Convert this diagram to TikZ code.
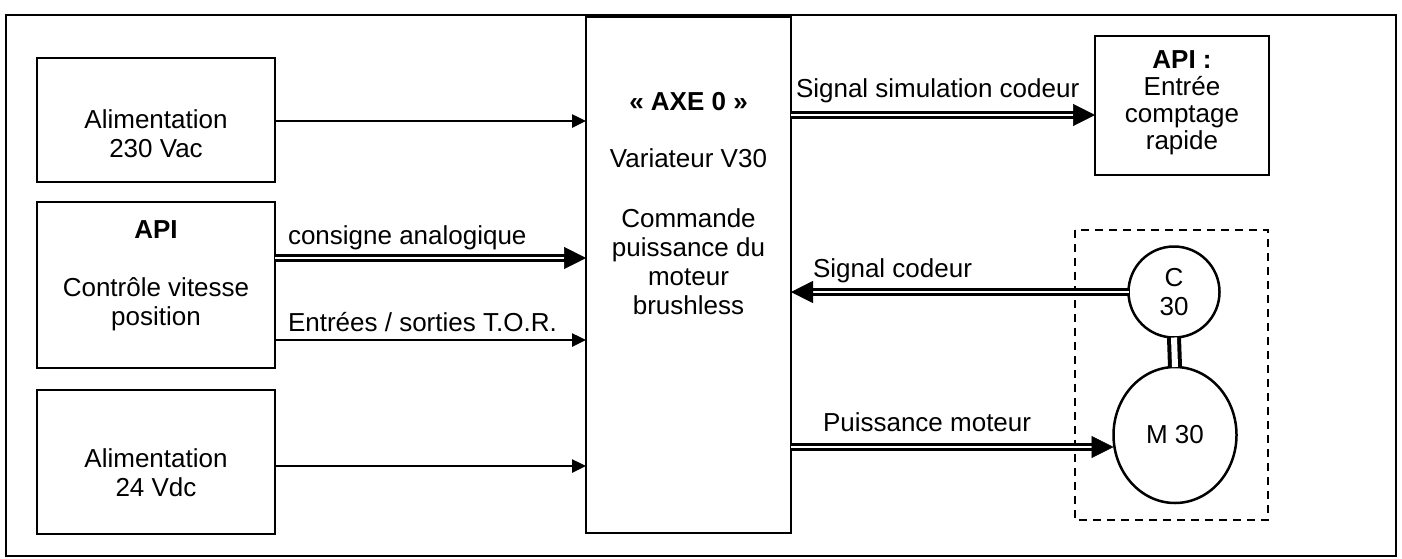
\documentclass[tikz,border=0pt]{standalone}
\usepackage{fontspec}
\setmainfont{Liberation Sans}
\usetikzlibrary{arrows.meta,shapes.geometric,calc}
\begin{document}
\begin{tikzpicture}[x=1pt,y=-1pt,
  every node/.style={font=\fontsize{26}{29}\selectfont, inner sep=0pt, outer sep=0pt},
  box/.style={draw, line width=2.5pt, align=center},
  lbl/.style={align=center},
  elbl/.style={anchor=base west},
  sline/.style={line width=2.5pt, -{Triangle[length=14pt,width=13pt]}},
  dline/.style={line width=2.6pt, double, double distance=2pt},
  dtip/.style={line width=0.5pt, -{Triangle[length=22pt,width=22pt]}},
]
\useasboundingbox (0,0) rectangle (1402,558);
% outer frame
\draw[line width=2.5pt] (6,15) rectangle (1396,556);

% left boxes
\node[box, minimum width=238pt, minimum height=124pt] (alim230) at (156,120) {};
\node[lbl] (alim230t) at (156,134) {Alimentation\\230 Vac};
\node[box, minimum width=238pt, minimum height=166pt] (api) at (156,285) {};
\node[lbl] (apit) at (156,230) {\bfseries API};
\node[lbl] (apic) at (156,304.5) {Contrôle vitesse\\position};
\node[box, minimum width=238pt, minimum height=144pt] (alim24) at (156,462) {};
\node[lbl] (alim24t) at (156,473) {Alimentation\\24 Vdc};

% central box
\node[box, minimum width=205pt, minimum height=516pt] (axe) at (688.5,275) {};
\node[lbl] (axet) at (688.5,102) {\bfseries « AXE 0 »};
\node[lbl] (axev) at (688.5,158) {Variateur V30};
\node[lbl] (axec) at (688.5,262) {Commande\\puissance du\\moteur\\brushless};

% right API box
\node[box, minimum width=174pt, minimum height=139pt] (apir) at (1182,105.5) {};
\node[lbl] (apirt) at (1182,102.5) {\bfseries API :\\[-2pt]\mdseries Entrée\\[-2pt]comptage\\[-2pt]rapide};

% motor group
\draw[line width=2.5pt, dash pattern=on 8pt off 6pt] (1075,230) rectangle (1268,520);
\node[draw, circle, line width=2.5pt, minimum size=91pt, align=center] (cod) at (1174,292) {C\\30};
\node[draw, ellipse, line width=2.5pt, minimum width=123pt, minimum height=136pt] (mot) at (1175,435) {M 30};
\draw[line width=4pt, double, double distance=6pt] (cod.south) -- (mot.north);

% row coordinates
\coordinate (r230) at (0,121);
\coordinate (rcons) at (0,258);
\coordinate (rtor) at (0,340);
\coordinate (r24) at (0,466);
\coordinate (rsim) at (0,115);
\coordinate (rpui) at (0,447);

% labels
\node[elbl] (lcons) at (288,244) {consigne analogique};
\node[elbl] (ltor) at (288,331) {Entrées / sorties T.O.R.};
\node[elbl] (lsim) at (796,97) {Signal simulation codeur};
\node[elbl] (lcod) at (813,277) {Signal codeur};
\node[elbl] (lpui) at (823,431) {Puissance moteur};

% left connectors
\draw[sline] (alim230.east |- r230) -- (axe.west |- r230);
\draw[dline, shorten >=20pt] (api.east |- rcons) -- (axe.west |- rcons);
\draw[dtip] ($(axe.west |- rcons)+(-3pt,0)$) -- (axe.west |- rcons);
\draw[sline] (api.east |- rtor) -- (axe.west |- rtor);
\draw[sline] (alim24.east |- r24) -- (axe.west |- r24);

% right connectors
\draw[dline, shorten >=20pt] (axe.east |- rsim) -- (apir.west |- rsim);
\draw[dtip] ($(apir.west |- rsim)+(-3pt,0)$) -- (apir.west |- rsim);
\draw[dline, shorten >=20pt] (cod.west) -- (axe.east |- cod.west);
\draw[dtip] ($(axe.east |- cod.west)+(3pt,0)$) -- (axe.east |- cod.west);
\draw[dline, shorten >=20pt] (axe.east |- rpui) -- (mot.west |- rpui);
\draw[dtip] ($(mot.west |- rpui)+(-3pt,0)$) -- (mot.west |- rpui);
\end{tikzpicture}
\end{document}
